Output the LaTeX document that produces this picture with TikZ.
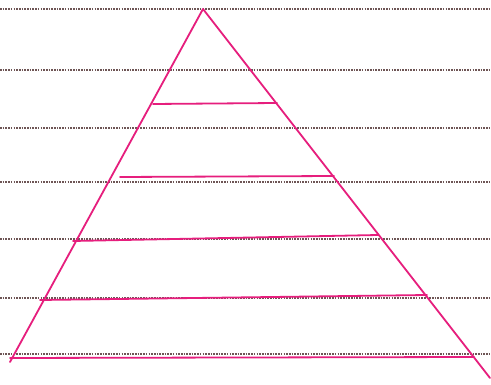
\documentclass[tikz,border=0pt]{standalone}
\definecolor{pinkline}{RGB}{230,30,125}
\definecolor{dotline}{RGB}{110,85,85}
\tikzset{
  guide/.style={dotline, line width=1.1pt, dash pattern=on 1.6pt off 1.1pt},
  pen/.style={pinkline, line width=1.8pt, line cap=round, line join=round},
}
\begin{document}
\begin{tikzpicture}[x=1pt,y=-1pt]
\useasboundingbox (0,0) rectangle (491,385);
\fill[white] (0,0) rectangle (491,385);
% guide lines
\foreach \yy in {9,70,128,182,239,298,354}
  \draw[guide] (0,\yy) -- (491,\yy);
% triangle
\coordinate (apex) at (203,9);
\coordinate (bl) at (10,362);
\coordinate (br) at (490,378);
\draw[pen] (bl) -- (apex) -- (br);
% inner lines
\draw[pen] (153,104) -- (277,103);
\draw[pen] (120,177) -- (334,176);
\draw[pen] (73,241) -- (378,235);
\draw[pen] (40,300) -- (427,295);
\draw[pen] (10,358) -- (474,357);
\end{tikzpicture}
\end{document}
